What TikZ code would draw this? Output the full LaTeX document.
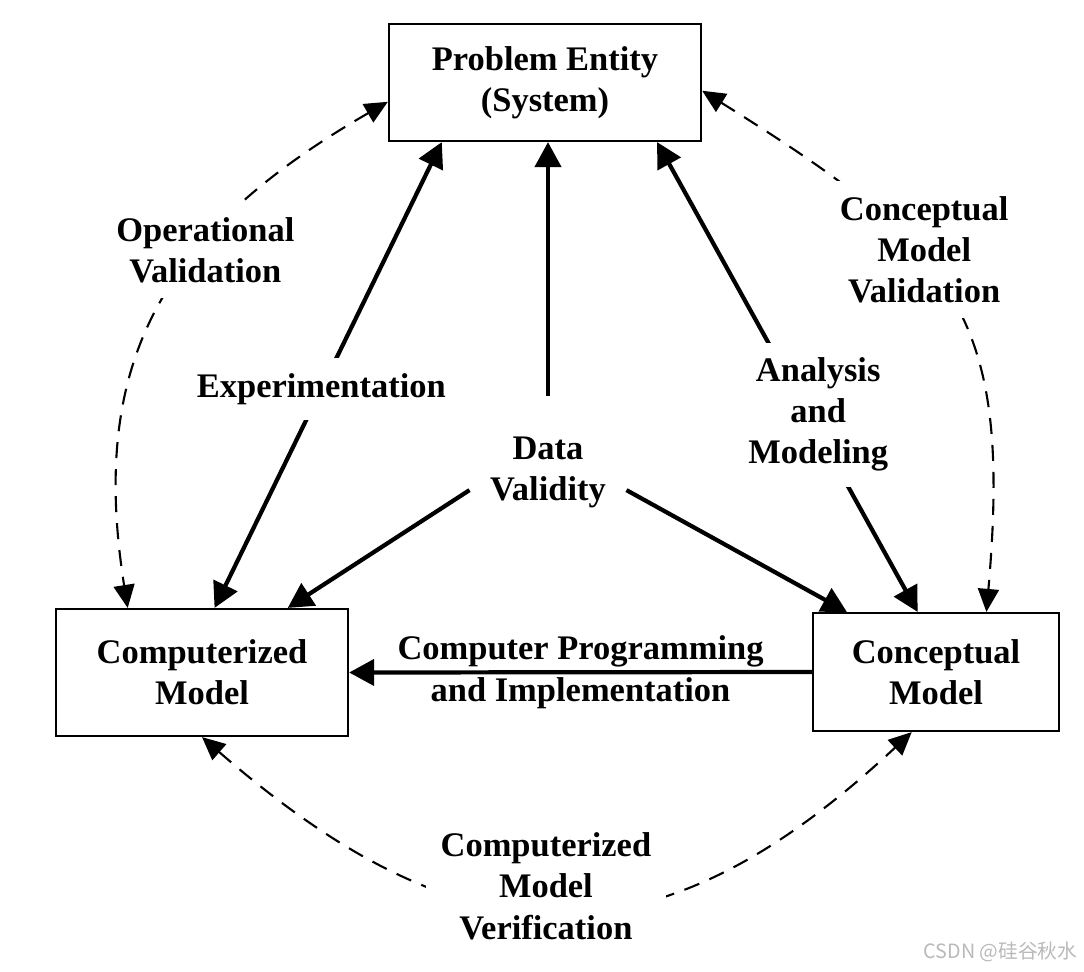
\documentclass[tikz,border=0pt]{standalone}
\usepackage{fontspec}
\setmainfont{Liberation Serif}
\newfontfamily\cjkfont{Noto Sans CJK SC}
\usetikzlibrary{arrows.meta}

\begin{document}
\begin{tikzpicture}[x=0.01cm, y=0.01cm,
  every node/.style={font=\fontsize{9.8}{11.7}\selectfont\bfseries, align=center},
  box/.style={draw, line width=0.6pt, inner sep=0pt},
  lbl/.style={fill=white, inner sep=0.15cm},
  flow/.style={line width=1.2pt, >={Triangle[length=0.25cm,width=0.26cm]}},
  valid/.style={line width=0.6pt, dash pattern=on 0.16cm off 0.11cm, >={Triangle[length=0.23cm,width=0.21cm]}, <->}]

\useasboundingbox (0,0) rectangle (1084,-972);

\node[box, minimum width=3.12cm, minimum height=1.17cm] (pe) at (545,-82.5) {Problem Entity\\(System)};
\node[box, minimum width=2.92cm, minimum height=1.27cm] (cm) at (202,-672.5) {Computerized\\Model};
\node[box, minimum width=2.46cm, minimum height=1.18cm] (conm) at (936,-672) {Conceptual\\Model};
\node[inner sep=0.2cm] (dv) at (548,-472) {Data\\Validity};

\draw[flow, <->] (cm.79) -- (pe.210) node[lbl, pos=0.47] (exp) {Experimentation};
\draw[flow, <->] (conm.107) -- (pe.-28) node[lbl, pos=0.42, xshift=0.1cm] (anm) {Analysis\\and\\Modeling};

\draw[flow, ->, shorten <=0.2cm] (dv.north) -- (dv.north |- pe.south);
\draw[flow, ->] (dv.193) -- (cm.37);
\draw[flow, ->] (dv.-13) -- (conm.146);

\draw[flow, ->] (conm.west) -- (cm.east) node[midway] (cpi) {Computer Programming\\and Implementation};

% validation arcs
\draw[valid] (pe.187) .. controls +(210:260) and +(99:250) .. (cm.139)
  node[lbl, pos=0.35, yshift=-0.07cm] (ov) {Operational\\Validation};
\draw[valid] (pe.357) .. controls +(-32:300) and +(85:300) .. (conm.50)
  node[lbl, pos=0.39, xshift=0.08cm, yshift=0.03cm] (cmval) {Conceptual\\Model\\Validation};
\draw[valid] (cm.south) .. controls +(-41:350) and +(223:350) .. (conm.-112)
  node[lbl, pos=0.5, xshift=-0.14cm, yshift=0.24cm] (cmv) {Computerized\\Model\\Verification};

\node[font=\cjkfont\fontsize{5.6}{6.5}\selectfont, text=gray!55, anchor=east, inner sep=0pt] (wm) at (1078,-952) {CSDN @硅谷秋水};

\end{tikzpicture}
\end{document}
